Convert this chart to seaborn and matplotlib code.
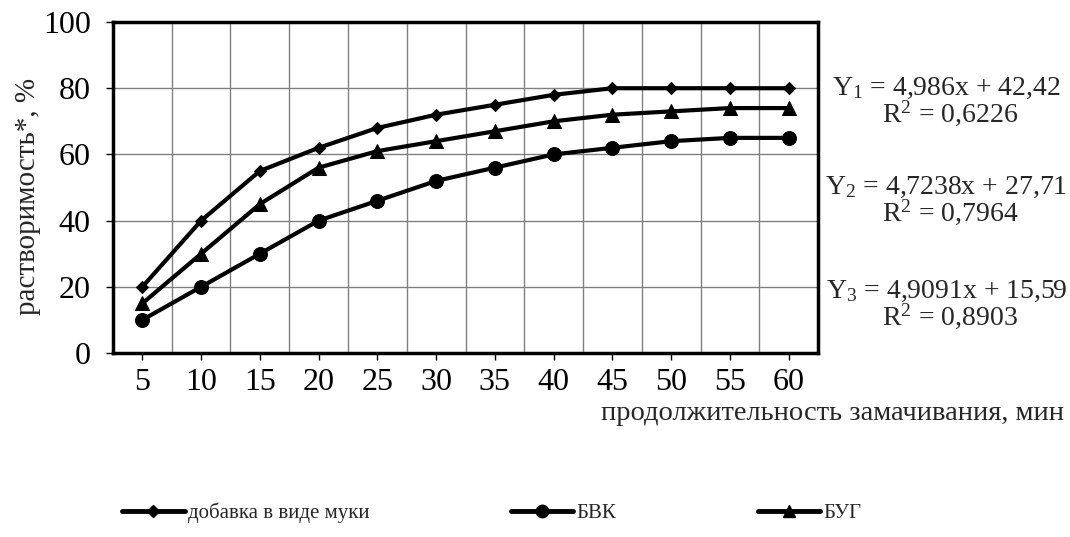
import matplotlib
matplotlib.use("Agg")
import matplotlib.pyplot as plt
import seaborn as sns
import pandas as pd
from matplotlib.lines import Line2D

sns.set_theme(style="white")
plt.rcParams['font.family'] = ['Liberation Serif', 'DejaVu Serif']
plt.rcParams['mathtext.fontset'] = 'custom'
plt.rcParams['mathtext.rm'] = 'Liberation Serif'
plt.rcParams['mathtext.it'] = 'Liberation Serif:italic'

minutes = [5, 10, 15, 20, 25, 30, 35, 40, 45, 50, 55, 60]
flour = [20, 40, 55, 62, 68, 72, 75, 78, 80, 80, 80, 80]
bvk = [10, 20, 30, 40, 46, 52, 56, 60, 62, 64, 65, 65]
bug = [15, 30, 45, 56, 61, 64, 67, 70, 72, 73, 74, 74]
series_names = ["добавка в виде муки", "БВК", "БУГ"]
equations = ["Y$_1$ = 4,986x + 42,42", "Y$_2$ = 4,7238x + 27,71", "Y$_3$ = 4,9091x + 15,59"]
r2_texts = ["R$^2$ = 0,6226", "R$^2$ = 0,7964", "R$^2$ = 0,8903"]
y_ticks = [0, 20, 40, 60, 80, 100]

fig = plt.figure(figsize=(10.7, 5.37), dpi=100)
ax = fig.add_axes([0.1056, 0.3426, 0.6589, 0.6164])

markers = ["D", "o", "^"]
msizes = [6, 10, 10]
for vals, name, mk, ms in zip([flour, bvk, bug], series_names, markers, msizes):
    df = pd.DataFrame({"x": minutes, "y": vals})
    sns.lineplot(data=df, x="x", y="y", ax=ax, color="black", linewidth=3,
                 marker=mk, markersize=ms, markeredgecolor="black", label=name, legend=False)

ax.set_xlim(2.5, 62.5)
ax.set_ylim(0, 100)
ax.set_xticks(minutes)
ax.set_xticks([m + 2.5 for m in [0] + minutes], minor=True)
ax.set_yticks(y_ticks)
ax.grid(False)
ax.grid(True, which="minor", axis="x", color="#808080", linewidth=1)
ax.grid(True, which="major", axis="y", color="#808080", linewidth=1)
ax.set_axisbelow(True)
for s in ax.spines.values():
    s.set_linewidth(2.5)
    s.set_color("black")
ax.tick_params(axis="both", which="major", direction="out", length=5, width=1,
               labelsize=23, colors="black", pad=6, left=True, bottom=True)
ax.tick_params(axis="y", which="major", pad=11)
ax.tick_params(axis="x", which="minor", length=0)
ax.set_xlabel("")
ax.set_ylabel("")

fig.text(28 / 1070, 1 - 196 / 537, "растворимость*, %", rotation=90,
         ha="center", va="center", fontsize=21)
fig.text(1064 / 1070, 1 - 413 / 537, "продолжительность замачивания, мин",
         ha="right", va="center", fontsize=20.5)

eq_y = [88, 187, 291]
for eq, r2, yy in zip(equations, r2_texts, eq_y):
    fig.text(946 / 1070, 1 - yy / 537, eq, ha="center", va="center", fontsize=20)
    fig.text(950 / 1070, 1 - (yy + 25) / 537, r2, ha="center", va="center", fontsize=20)

handles = [Line2D([], [], color="black", linewidth=3.5, marker=m, markersize=s)
           for m, s in zip(markers, [6, 9, 9])]
fig.legend(handles, series_names, loc="center left", bbox_to_anchor=(122 / 1070, 1 - 513 / 537),
           ncol=3, frameon=False, fontsize=15, columnspacing=6.8, handlelength=3,
           handletextpad=0.15, borderaxespad=0, borderpad=0)

fig.savefig("out.png", dpi=100)
